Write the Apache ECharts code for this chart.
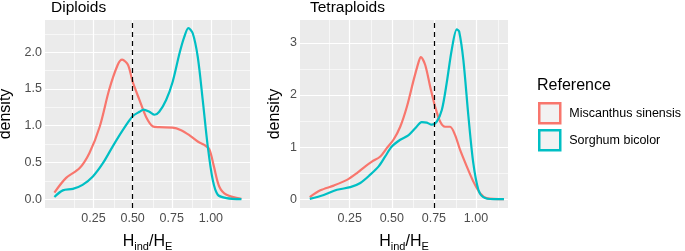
<!DOCTYPE html>
<html>
<head>
<meta charset="utf-8">
<script src="https://cdn.jsdelivr.net/npm/echarts@6/dist/echarts.min.js"></script>
<style>
  html, body { margin: 0; padding: 0; background: #fff; }
  #chart { width: 685px; height: 251px; }
</style>
</head>
<body>
<div id="chart"></div>
<script>
// density curves, [H_ind/H_E, density]
var diploidMiscanthus = [[0.0,0.09],[0.075,0.29],[0.16,0.42],[0.224,0.63],[0.29,0.99],[0.35,1.49],[0.405,1.83],[0.433,1.9],[0.47,1.83],[0.5,1.6],[0.544,1.35],[0.586,1.12],[0.63,0.99],[0.67,0.98],[0.756,0.975],[0.81,0.94],[0.86,0.875],[0.916,0.785],[0.958,0.74],[0.99,0.68],[1.02,0.44],[1.054,0.17],[1.1,0.06],[1.195,0.005]];
var diploidSorghum = [[0.0,0.03],[0.054,0.12],[0.118,0.14],[0.18,0.195],[0.246,0.31],[0.31,0.49],[0.373,0.72],[0.437,0.94],[0.5,1.13],[0.544,1.19],[0.57,1.22],[0.607,1.19],[0.64,1.15],[0.67,1.19],[0.714,1.35],[0.756,1.6],[0.8,1.99],[0.83,2.21],[0.856,2.33],[0.884,2.26],[0.916,1.94],[0.948,1.35],[0.98,0.72],[1.012,0.26],[1.044,0.06],[1.1,0.014],[1.195,0.0]];
var tetraMiscanthus = [[0.013,0.04],[0.076,0.17],[0.155,0.26],[0.234,0.37],[0.293,0.5],[0.343,0.63],[0.382,0.72],[0.432,0.82],[0.47,0.98],[0.51,1.14],[0.55,1.39],[0.59,1.78],[0.63,2.29],[0.66,2.64],[0.672,2.73],[0.698,2.58],[0.728,2.16],[0.757,1.78],[0.787,1.49],[0.816,1.39],[0.846,1.39],[0.876,1.23],[0.905,0.95],[0.945,0.63],[0.984,0.34],[1.024,0.115],[1.063,0.02],[1.166,0.0]];
var tetraSorghum = [[0.013,0.006],[0.096,0.08],[0.175,0.18],[0.254,0.23],[0.313,0.31],[0.372,0.47],[0.422,0.63],[0.461,0.82],[0.5,1.01],[0.55,1.14],[0.6,1.23],[0.639,1.36],[0.678,1.48],[0.708,1.47],[0.737,1.43],[0.767,1.49],[0.797,1.71],[0.826,2.23],[0.856,2.87],[0.886,3.26],[0.9,3.22],[0.925,2.67],[0.955,1.59],[0.984,0.69],[1.014,0.18],[1.043,0.04],[1.103,0.0],[1.166,0.0]];

var xTicks = [0.25, 0.5, 0.75, 1.0];
var xMinor = [0.125, 0.375, 0.625, 0.875, 1.125];
var diploidYTicks = [0, 0.5, 1.0, 1.5, 2.0];
var diploidYMinor = [0.25, 0.75, 1.25, 1.75, 2.25];
var tetraYTicks = [0, 1, 2, 3];
var tetraYMinor = [0.5, 1.5, 2.5];
var thresholds = [0.5, 0.75];
var panelTitles = ['Diploids', 'Tetraploids'];
var seriesNames = ['Miscanthus sinensis', 'Sorghum bicolor'];
var colors = ['#F8766D', '#00BFC4'];

var chart = echarts.init(document.getElementById('chart'));

function gridLines(xs, ys, width) {
    var out = [];
    xs.forEach(function (v) { out.push({ xAxis: v, lineStyle: { color: '#fff', width: width, type: 'solid' } }); });
    ys.forEach(function (v) { out.push({ yAxis: v, lineStyle: { color: '#fff', width: width, type: 'solid' } }); });
    return out;
}

function xAxisFor(i, min, max) {
    return {
        type: 'value', gridIndex: i, min: min, max: max,
        axisLine: { show: false },
        splitLine: { show: false },
        axisTick: { customValues: xTicks, length: 3, lineStyle: { color: '#333' } },
        axisLabel: {
            customValues: xTicks, color: '#4D4D4D', fontSize: 12.5, margin: 4,
            fontFamily: 'Liberation Sans',
            formatter: function (v) { return v.toFixed(2); }
        },
        name: '{h|H}{s|ind}{h|/H}{s|E}',
        nameLocation: 'middle', nameGap: 24,
        nameTextStyle: {
            rich: {
                h: { fontSize: 16, color: '#000', fontFamily: 'Liberation Sans', lineHeight: 20 },
                s: { fontSize: 11, color: '#000', fontFamily: 'Liberation Sans', lineHeight: 20, padding: [9, 0, 0, 0] }
            }
        }
    };
}

function yAxisFor(i, min, max, ticks, digits, gap) {
    return {
        type: 'value', gridIndex: i, min: min, max: max,
        axisLine: { show: false },
        splitLine: { show: false },
        axisTick: { show: true, customValues: ticks, length: 3, lineStyle: { color: '#333' } },
        axisLabel: {
            customValues: ticks, color: '#4D4D4D', fontSize: 12.5, margin: 3,
            fontFamily: 'Liberation Sans',
            formatter: function (v) { return v.toFixed(digits); }
        },
        name: 'density', nameLocation: 'middle', nameGap: gap, nameRotate: 90,
        nameTextStyle: { fontSize: 16, color: '#000', fontFamily: 'Liberation Sans' }
    };
}

function panelSeries(i, curves, ticksX, minorX, ticksY, minorY, cut) {
    var s = [];
    s.push({
        type: 'line', xAxisIndex: i, yAxisIndex: i, data: [], silent: true, z: 1,
        markLine: { silent: true, symbol: 'none', label: { show: false }, animation: false, z: 1,
            data: gridLines(minorX, minorY, 0.6).concat(gridLines(ticksX, ticksY, 1.2)) }
    });
    curves.forEach(function (c, k) {
        s.push({
            name: seriesNames[k], type: 'line', xAxisIndex: i, yAxisIndex: i,
            data: c, showSymbol: false, smooth: 0.3, z: 3,
            lineStyle: { color: colors[k], width: 2.2 },
            itemStyle: { color: colors[k] }
        });
    });
    s.push({
        type: 'line', xAxisIndex: i, yAxisIndex: i, data: [], silent: true, z: 4,
        markLine: { silent: true, symbol: 'none', label: { show: false }, animation: false, z: 6,
            data: [{ xAxis: cut, lineStyle: { color: '#000', width: 1.2, type: [5, 4] } }] }
    });
    return s;
}

var titleStyle = { fontSize: 15.5, fontWeight: 'normal', color: '#000', fontFamily: 'Liberation Sans' };

option = {
    animation: false,
    backgroundColor: '#fff',
    title: [
        { text: panelTitles[0], left: 51, top: 0, padding: 0, textStyle: titleStyle },
        { text: panelTitles[1], left: 310, top: 0, padding: 0, textStyle: titleStyle },
        { text: 'Reference', left: 537, top: 78, padding: 0,
          textStyle: { fontSize: 16, fontWeight: 'normal', color: '#000', fontFamily: 'Liberation Sans' } }
    ],
    grid: [
        { left: 45, top: 20, width: 205, height: 188, outerBoundsMode: 'none', show: true, backgroundColor: '#EBEBEB', borderWidth: 0 },
        { left: 300, top: 20, width: 208, height: 188, outerBoundsMode: 'none', show: true, backgroundColor: '#EBEBEB', borderWidth: 0 }
    ],
    xAxis: [xAxisFor(0, -0.06, 1.25), xAxisFor(1, -0.045, 1.19)],
    yAxis: [
        yAxisFor(0, -0.12, 2.44, diploidYTicks, 1, 31),
        yAxisFor(1, -0.17, 3.44, tetraYTicks, 0, 17)
    ],
    legend: {
        left: 538, top: 102, orient: 'vertical', padding: 0,
        itemWidth: 21, itemHeight: 20, itemGap: 4.5,
        textStyle: { fontSize: 12.5, color: '#000', fontFamily: 'Liberation Sans', padding: [0, 0, 0, 4] },
        data: seriesNames.map(function (n, k) {
            return { name: n, icon: 'rect', itemStyle: { color: '#F2F2F2', borderColor: colors[k], borderWidth: 2.5 } };
        })
    },
    series: []
        .concat(panelSeries(0, [diploidMiscanthus, diploidSorghum], xTicks, xMinor, diploidYTicks, diploidYMinor, thresholds[0]))
        .concat(panelSeries(1, [tetraMiscanthus, tetraSorghum], xTicks, xMinor, tetraYTicks, tetraYMinor, thresholds[1]))
};
chart.setOption(option);
</script>
</body>
</html>
